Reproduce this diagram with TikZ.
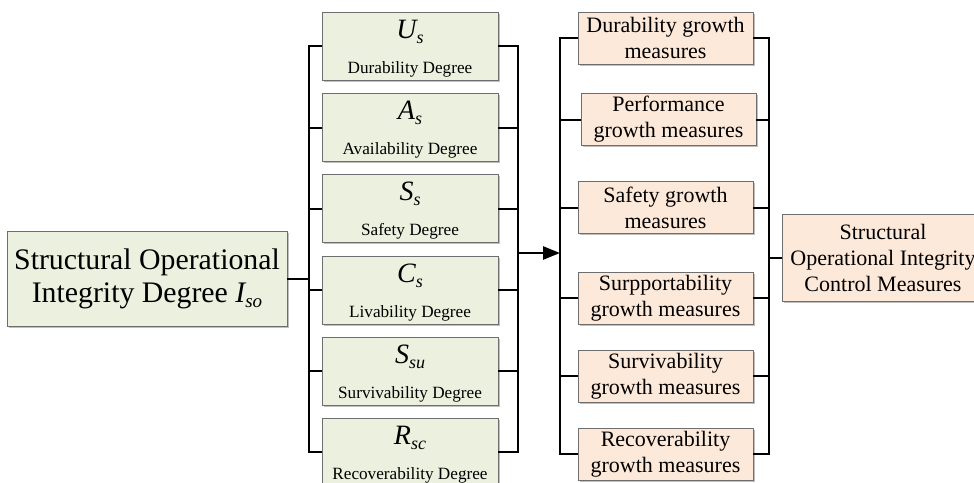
\documentclass[tikz,border=0pt]{standalone}
\usepackage{fontspec}
\setmainfont{Liberation Serif}
\usetikzlibrary{arrows.meta,shadows}
\definecolor{gfill}{HTML}{EBF1DE}
\definecolor{ofill}{HTML}{FDE9D9}
\definecolor{bcol}{HTML}{6E6E6E}
\newcommand\SymA[2]{{\itshape #1\raisebox{-5pt}{\fontsize{18}{18}\selectfont #2}}}
\newcommand\MidBox[5]{%
  \node[gbox] (#1) at (410,#2) {};
  \node[symtext] (#1s) at ([yshift=8pt]#1.center) {\SymA{#3}{#4}};
  \node[labtext] (#1l) at ([yshift=-27pt]#1.center) {#5};
}
\begin{document}
\begin{tikzpicture}[x=1pt,y=-1pt,
  box/.style={draw=bcol, line width=0.8pt,
    drop shadow={shadow xshift=1.5pt,shadow yshift=-1.5pt,fill=black!50,opacity=0.5}},
  gbox/.style={box, fill=gfill, minimum width=176pt, minimum height=68pt, inner sep=0pt},
  obox/.style={box, fill=ofill, minimum width=175pt, minimum height=52pt, inner sep=0pt,
    align=center, font=\fontsize{22}{26}\selectfont},
  symtext/.style={anchor=base, inner sep=0pt, font=\fontsize{28}{32}\selectfont},
  labtext/.style={anchor=base, inner sep=0pt, font=\fontsize{17.2}{20}\selectfont},
  wire/.style={line width=2pt, black},
  arrowwire/.style={line width=2.6pt, black, -{Triangle[length=17pt,width=13pt]}},
]
\useasboundingbox (0,0) rectangle (974,482);

% left box
\node[box, fill=gfill, minimum width=280pt, minimum height=95pt, inner sep=0pt,
  align=center, font=\fontsize{29.8}{33}\selectfont] (so) at (147,278.5)
  {Structural Operational\\Integrity Degree {\itshape I\raisebox{-5pt}{\fontsize{19}{19}\selectfont so}}};

% middle boxes
\MidBox{b1}{46}{U}{s}{Durability Degree}
\MidBox{b2}{127.5}{A}{s}{Availability Degree}
\MidBox{b3}{208.5}{S}{s}{Safety Degree}
\MidBox{b4}{290}{C}{s}{Livability Degree}
\MidBox{b5}{371}{S}{su}{Survivability Degree}
\MidBox{b6}{452}{R}{sc}{Recoverability Degree}

% right boxes
\node[obox] (r1) at (665.5,38) {Durability growth\\measures};
\node[obox] (r2) at (668.5,119.5) {Performance\\growth measures};
\node[obox] (r3) at (665.5,207.5) {Safety growth\\measures};
\node[obox] (r4) at (665.5,298) {Surpportability\\growth measures};
\node[obox] (r5) at (665.5,376) {Survivability\\growth measures};
\node[obox] (r6) at (665.5,454) {Recoverability\\growth measures};

% final box
\node[box, fill=ofill, minimum width=202pt, minimum height=87pt, inner sep=0pt,
  align=center, font=\fontsize{22}{26}\selectfont] (fin) at (883,257.5)
  {Structural\\Operational Integrity\\Control Measures};

% bus coordinates
\coordinate (lb) at (309,0);
\coordinate (rb) at (518,0);
\coordinate (ol) at (560,0);
\coordinate (or) at (769,0);
\coordinate (am) at (518,253);

% wires: left of middle
\draw[wire] (b1.west) -- (b1.west -| lb) -- (b6.west -| lb) -- (b6.west);
\foreach \n in {b2,b3,b4,b5} \draw[wire] (\n.west) -- (\n.west -| lb);
\draw[wire] (so.east) -- (so.east -| lb);
% right of middle
\draw[wire] (b1.east) -- (b1.east -| rb) -- (b6.east -| rb) -- (b6.east);
\foreach \n in {b2,b3,b4,b5} \draw[wire] (\n.east) -- (\n.east -| rb);
% arrow
\draw[arrowwire] (am) -- (am -| ol);
% right boxes
\draw[wire] (r1.west) -- (r1.west -| ol) -- (r6.west -| ol) -- (r6.west);
\foreach \n in {r2,r3,r4,r5} \draw[wire] (\n.west) -- (\n.west -| ol);
\draw[wire] (r1.east) -- (r1.east -| or) -- (r6.east -| or) -- (r6.east);
\foreach \n in {r2,r3,r4,r5} \draw[wire] (\n.east) -- (\n.east -| or);
\draw[wire] (fin.west) -- (fin.west -| or);
\end{tikzpicture}
\end{document}
